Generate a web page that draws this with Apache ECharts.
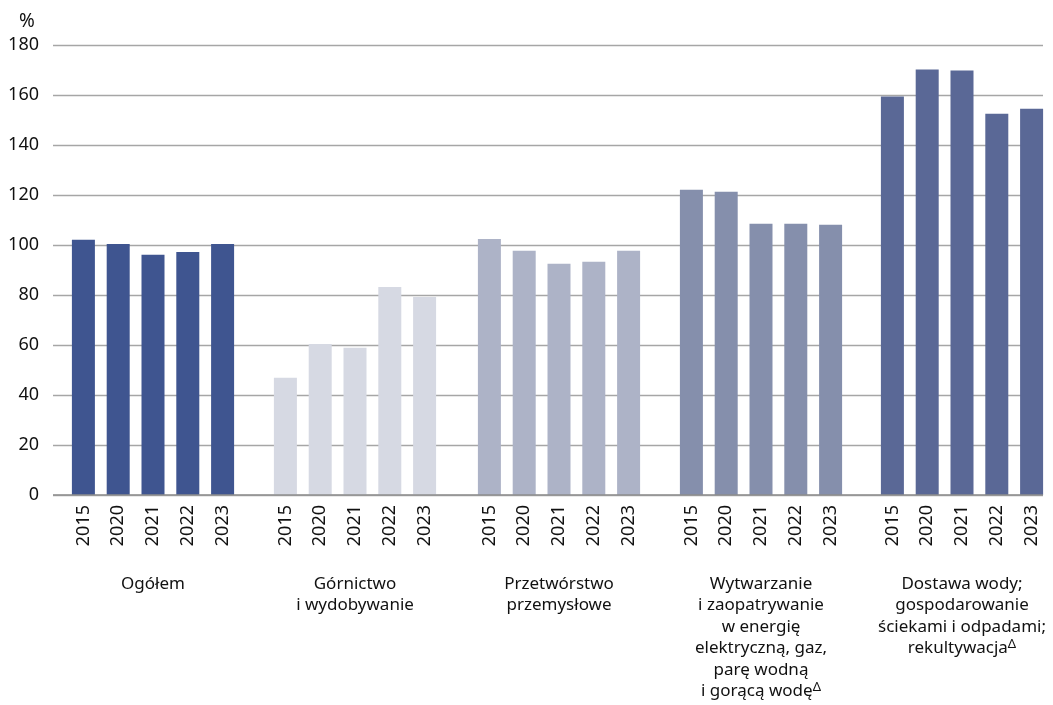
<!DOCTYPE html>
<html lang="pl">
<head>
    <meta charset="UTF-8">
    <title>wskaźnik</title>
    <script type="text/javascript" src="https://cdnjs.cloudflare.com/ajax/libs/echarts/6.0.0/echarts.min.js"></script>
    <style>body{margin:0;background:#fff}</style>
</head>
<body>
    <div id="main" style="width: 1053px; height: 705px"></div>
    <script type="text/javascript">
        var years = ['2015', '2020', '2021', '2022', '2023'];
        var groupNames = [
            'Ogółem',
            'Górnictwo\ni wydobywanie',
            'Przetwórstwo\nprzemysłowe',
            'Wytwarzanie\ni zaopatrywanie\nw energię\nelektryczną, gaz,\nparę wodną\ni gorącą wodę{sup|Δ}',
            'Dostawa wody;\ngospodarowanie\nściekami i odpadami;\nrekultywacja{sup|Δ}'
        ];
        var ogolem = [102.1, 100.4, 96.1, 97.2, 100.4];
        var gornictwo = [46.9, 60.4, 58.9, 83.2, 79.2];
        var przetworstwo = [102.4, 97.7, 92.5, 93.3, 97.7];
        var wytwarzanie = [122.1, 121.3, 108.5, 108.5, 108.1];
        var dostawa = [159.4, 170.2, 169.8, 152.5, 154.5];
        var colors = ['#3f5590', '#d6d9e3', '#adb3c7', '#858fac', '#5a6896'];
        var values = [ogolem, gornictwo, przetworstwo, wytwarzanie, dostawa];

        var font = 'Noto Sans';
        var fs = 18;
        var groupLeft = [66, 268, 472, 674, 875];
        var groupWidth = 174;

        var grids = [{left: 53, right: 10, top: 45, bottom: 210, outerBoundsMode: 'none'}];
        var xAxes = [{gridIndex: 0, type: 'value', show: false, min: 0, max: 1}];
        var yAxes = [{
            gridIndex: 0, type: 'value', min: 0, max: 180, interval: 20,
            axisLine: {show: false}, axisTick: {show: false},
            axisLabel: {fontFamily: font, fontSize: fs, color: '#111', margin: 14},
            splitLine: {lineStyle: {color: '#a6a6a6', width: 1.3}}
        }];
        var series = [];
        values.forEach(function (vals, i) {
            grids.push({left: groupLeft[i], width: groupWidth, top: 45, bottom: 210, outerBoundsMode: 'none'});
            xAxes.push({
                gridIndex: i + 1, type: 'category', data: years,
                axisLine: {show: false}, axisTick: {show: false},
                axisLabel: {rotate: 90, fontFamily: font, fontSize: fs, color: '#111', margin: 10},
                name: groupNames[i], nameLocation: 'middle', nameGap: 78,
                nameTextStyle: {
                    fontFamily: font, fontSize: 17, color: '#111', lineHeight: 21.5,
                    verticalAlign: 'top', align: 'center',
                    rich: {sup: {fontSize: 13, verticalAlign: 'top', padding: [0, 0, 10, 0], fontFamily: font, color: '#111'}}
                }
            });
            yAxes.push({gridIndex: i + 1, type: 'value', min: 0, max: 180, show: false, splitLine: {show: false}});
            series.push({
                type: 'bar', xAxisIndex: i + 1, yAxisIndex: i + 1,
                data: vals, barWidth: 23, itemStyle: {color: colors[i]},
                z: 3
            });
        });

        // baseline
        series.push({
            type: 'line', xAxisIndex: 0, yAxisIndex: 0, data: [[0, 0], [1, 0]],
            symbol: 'none', lineStyle: {color: '#8c8c8c', width: 1.5}, z: 4, silent: true
        });

        var myChart = echarts.init(document.getElementById('main'));
        myChart.setOption({
            animation: false,
            title: {text: '%', left: 14, top: 7, textStyle: {fontFamily: font, fontSize: 19, fontWeight: 'normal', color: '#111'}},
            grid: grids,
            xAxis: xAxes,
            yAxis: yAxes,
            series: series
        });
    </script>
</body>
</html>
